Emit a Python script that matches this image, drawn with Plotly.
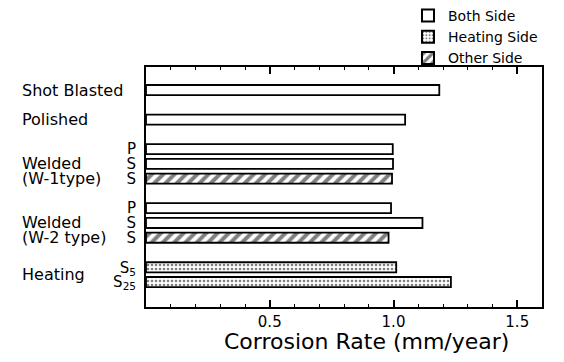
import plotly.graph_objects as go

# Row order (top to bottom), blank strings are spacer rows between groups
row_order = ["Shot Blasted", " ", "Polished", "  ", "W1-P", "W1-S", "W1-S-o", "   ",
             "W2-P", "W2-S", "W2-S-o", "    ", "H-S5", "H-S25"]

both_rows = ["Shot Blasted", "Polished", "W1-P", "W1-S", "W2-P", "W2-S"]
both_vals = [1.185, 1.047, 0.997, 0.998, 0.99, 1.117]

heating_rows = ["H-S5", "H-S25"]
heating_vals = [1.011, 1.232]

other_rows = ["W1-S-o", "W2-S-o"]
other_vals = [0.994, 0.98]

sub_rows = ["W1-P", "W1-S", "W1-S-o", "W2-P", "W2-S", "W2-S-o", "H-S5", "H-S25"]
sub_labels = ["P", "S", "S", "P", "S", "S", "S<sub>5</sub>", "S<sub>25</sub>"]

x_ticks = [0.5, 1.0, 1.5]
x_tick_labels = ["0.5", "1.0", "1.5"]

FONT = "DejaVu Sans"

# page body adds an 8px offset; figure is sized to fit the window
W, H = 556, 354
ML, MR, MT, MB = 138, 22, 59, 55
PW, PH = W - ML - MR, H - MT - MB

fig = go.Figure()
fig.add_trace(go.Bar(
    y=both_rows, x=both_vals, orientation="h", name="Both Side", width=0.68,
    marker=dict(color="white", line=dict(color="black", width=1.8)),
))
fig.add_trace(go.Bar(
    y=heating_rows, x=heating_vals, orientation="h", name="Heating Side", width=0.68,
    marker=dict(color="white", line=dict(color="black", width=1.8),
                pattern=dict(shape=".", size=4, solidity=0.35, fgcolor="black",
                             bgcolor="white", fillmode="overlay")),
))
fig.add_trace(go.Bar(
    y=other_rows, x=other_vals, orientation="h", name="Other Side", width=0.68,
    marker=dict(color="white", line=dict(color="black", width=1.8),
                pattern=dict(shape="/", size=8, solidity=0.5, fgcolor="black",
                             bgcolor="white", fillmode="overlay")),
))

annots = []
def lab(text, y):
    annots.append(dict(text=text, x=(12 - ML) / PW, xref="paper", y=y, yref="y",
                       xanchor="left", yanchor="middle", showarrow=False,
                       font=dict(family=FONT, size=16, color="black")))
lab("Shot Blasted", 0)
lab("Polished", 2)
lab("Welded", 5)
lab("(W-1type)", 6)
lab("Welded", 9)
lab("(W-2 type)", 10)
lab("Heating", 12.5)

annots.append(dict(text="Corrosion Rate (mm/year)", x=(358 - ML) / PW, xref="paper",
                   y=-34 / PH, yref="paper", xanchor="center", yanchor="middle",
                   showarrow=False, font=dict(family=FONT, size=22, color="black")))

fig.update_layout(
    width=W, height=H,
    margin=dict(l=ML, r=MR, t=MT, b=MB, autoexpand=False),
    paper_bgcolor="white", plot_bgcolor="white",
    barmode="overlay",
    font=dict(family=FONT, size=15, color="black"),
    annotations=annots,
    showlegend=True,
    legend=dict(x=(400 - ML) / PW, y=1 + (MT + 8) / PH, xanchor="left", yanchor="top",
                font=dict(family=FONT, size=14), tracegroupgap=0,
                itemsizing="constant", bgcolor="rgba(0,0,0,0)"),
    xaxis=dict(range=[0, 1.6], tickvals=x_ticks, ticktext=x_tick_labels,
               ticks="inside", ticklen=7, tickwidth=1.5, tickcolor="black",
               minor=dict(dtick=0.1, ticks="inside", ticklen=3, tickcolor="black", tickwidth=1.2),
               showline=True, linecolor="black", linewidth=2, mirror="ticks",
               showgrid=False, zeroline=False, tickfont=dict(size=15)),
    yaxis=dict(categoryorder="array", categoryarray=row_order,
               range=[14.69, -1.56], tickvals=sub_rows, ticktext=sub_labels,
               ticks="", showline=True, linecolor="black", linewidth=2, mirror=True,
               ticklabelstandoff=5,
               showgrid=False, zeroline=False, tickfont=dict(size=15)),
)

fig.write_html("out.html")
